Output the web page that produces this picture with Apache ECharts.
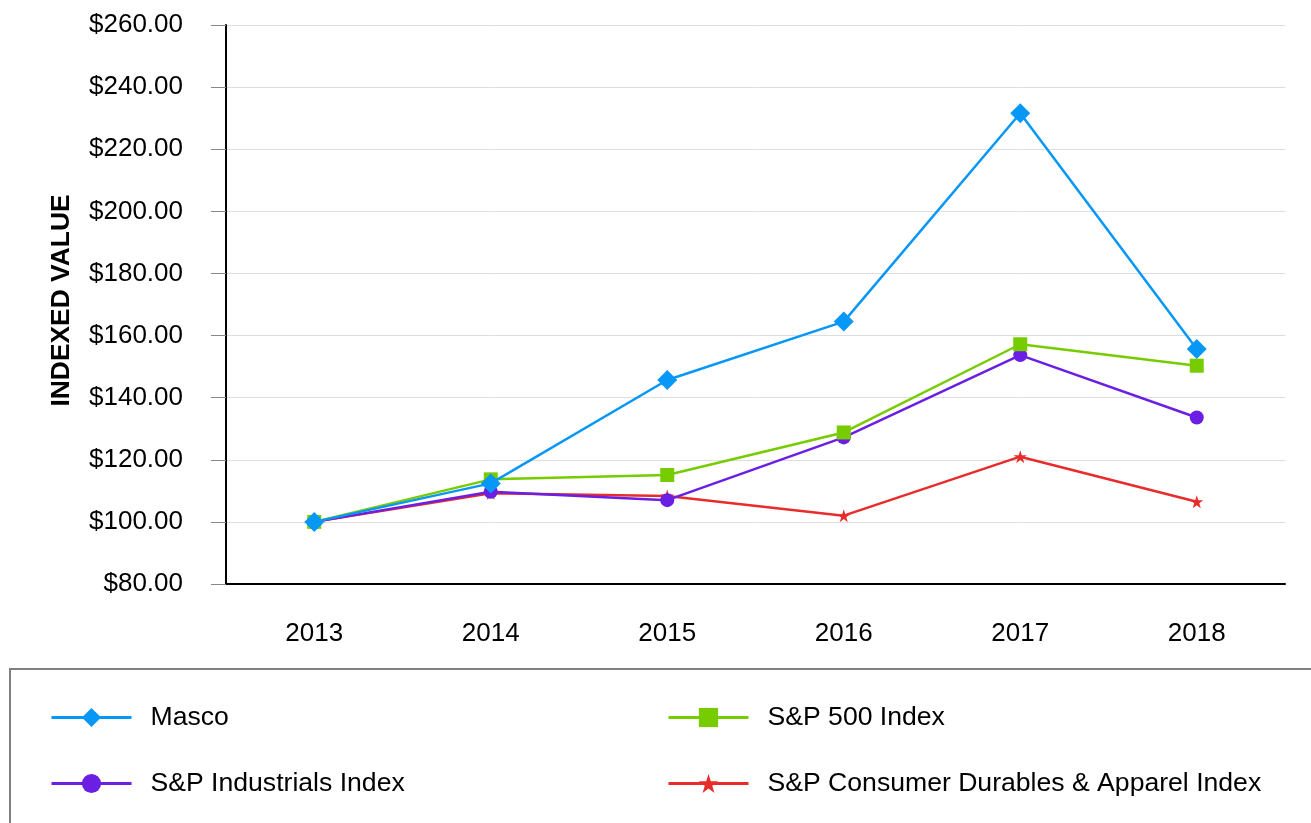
<!DOCTYPE html>
<html>
<head>
<meta charset="utf-8">
<script src="https://cdn.jsdelivr.net/npm/echarts@6/dist/echarts.min.js"></script>
<style>
html,body{margin:0;padding:0;background:#fff;}
#main{width:1311px;height:823px;}
</style>
</head>
<body>
<div id="main"></div>
<script>
const years = ['2013', '2014', '2015', '2016', '2017', '2018'];
const masco = [100, 112.4, 145.7, 164.5, 231.6, 155.7];
const sp500 = [100, 113.7, 115.1, 128.8, 157.2, 150.3];
const industrials = [100, 109.7, 107.0, 127.2, 153.7, 133.6];
const consumerDurables = [100, 109.2, 108.3, 102.0, 121.0, 106.5];
const seriesNames = ['Masco', 'S&P 500 Index', 'S&P Industrials Index', 'S&P Consumer Durables & Apparel Index'];

const FONT = '"Liberation Sans", Arial, sans-serif';
const colors = ['#0797f7', '#77cc00', '#6a1fe3', '#e82b2b'];
const symbols = ['diamond', 'rect', 'circle', 'path://M50,0 L61.8,35.4 L99,35.4 L69.1,57.3 L80.3,92.7 L50,70.8 L19.7,92.7 L30.9,57.3 L1,35.4 L38.2,35.4 Z'];
const symbolSizes = [20, 14, 14, 13];
const dataSets = [masco, sp500, industrials, consumerDurables];

const legendPos = [
  {left: 50, top: 704},
  {left: 667, top: 704},
  {left: 50, top: 770},
  {left: 667, top: 770}
];

const chart = echarts.init(document.getElementById('main'));
chart.setOption({
  animation: false,
  textStyle: {fontFamily: FONT},
  grid: {left: 226, right: 26, top: 25, bottom: 239, containLabel: false},
  graphic: [{
    type: 'rect',
    shape: {x: 10, y: 669, width: 1330, height: 200},
    style: {fill: 'none', stroke: '#7f7f7f', lineWidth: 2},
    silent: true
  }],
  legend: legendPos.map((p, i) => ({
    data: [seriesNames[i]],
    left: p.left,
    top: p.top,
    itemWidth: 80,
    itemHeight: 24,
    padding: 0,
    lineStyle: {width: 3},
    textStyle: {fontFamily: FONT, fontSize: 26.6, color: '#000', padding: [3, 0, 0, 14]}
  })),
  xAxis: {
    type: 'category',
    data: years,
    boundaryGap: true,
    axisLine: {lineStyle: {color: '#000', width: 2}},
    axisTick: {alignWithLabel: true, length: 15, lineStyle: {color: '#888', width: 1}},
    axisLabel: {fontFamily: FONT, fontSize: 26, color: '#000', margin: 37},
    splitLine: {show: false}
  },
  yAxis: {
    type: 'value',
    min: 80,
    max: 260,
    interval: 20,
    name: 'INDEXED VALUE',
    nameLocation: 'middle',
    nameGap: 151,
    nameTextStyle: {fontFamily: FONT, fontSize: 26.4, fontWeight: 'bold', color: '#000', padding: [0, 0, 0, 8]},
    axisLine: {show: true, lineStyle: {color: '#000', width: 2}},
    axisTick: {show: true, length: 15, lineStyle: {color: '#888', width: 1}},
    axisLabel: {fontFamily: FONT, fontSize: 26, color: '#000', margin: 43,
      formatter: v => '$' + v.toFixed(2)},
    splitLine: {show: true, lineStyle: {color: '#dedede', width: 1}}
  },
  series: dataSets.map((d, i) => ({
    name: seriesNames[i],
    type: 'line',
    data: d,
    symbol: symbols[i],
    symbolSize: symbolSizes[i],
    showAllSymbol: true,
    lineStyle: {color: colors[i], width: 2.5},
    itemStyle: {color: colors[i]},
    z: 10 - i
  }))
});
</script>
</body>
</html>
